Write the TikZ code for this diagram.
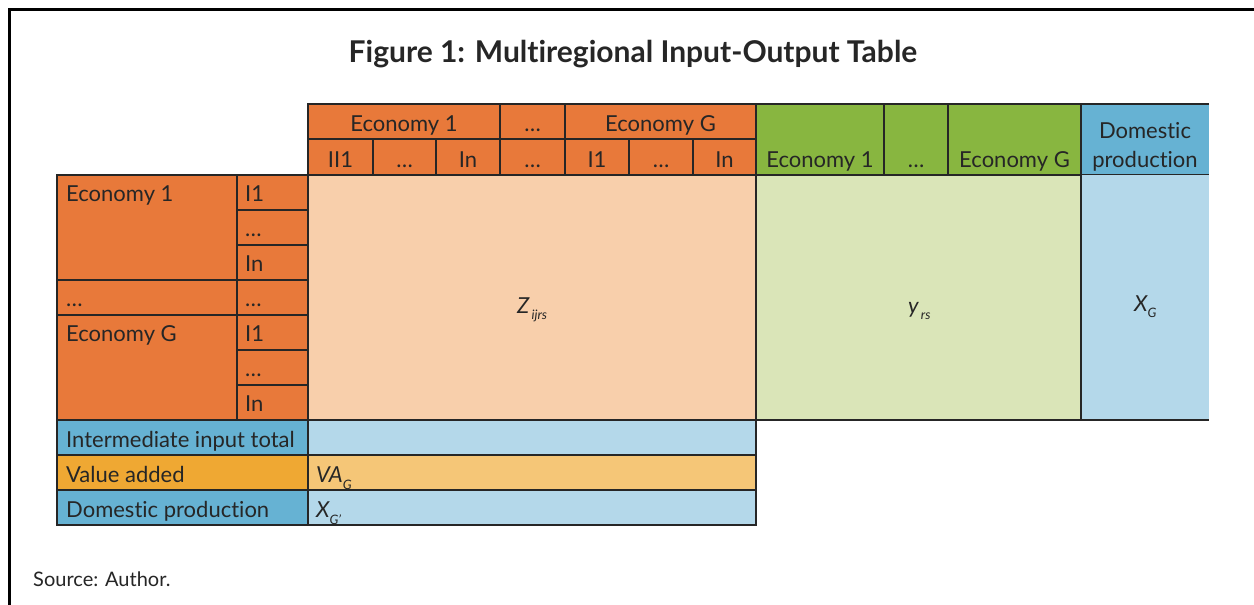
\documentclass[tikz,border=0pt]{standalone}
\usepackage{fontspec}
\setmainfont{Lato}[Ligatures=NoCommon]
\definecolor{ecoorange}{HTML}{E8793A}
\definecolor{zfill}{HTML}{F8CFAB}
\definecolor{ecogreen}{HTML}{88B640}
\definecolor{yfill}{HTML}{DAE5B8}
\definecolor{prodblue}{HTML}{66B2D3}
\definecolor{xfill}{HTML}{B4D8EA}
\definecolor{vaorange}{HTML}{EFA833}
\definecolor{vafill}{HTML}{F5C677}
\definecolor{ink}{HTML}{262626}
\tikzset{
  cell/.style={draw=ink, line width=1.5pt},
  lbl/.style={font=\fontsize{22}{25}\selectfont, text=ink, inner sep=0pt}
}
\begin{document}
\begin{tikzpicture}[x=1pt,y=-1pt]
\useasboundingbox (0,0) rectangle (1254,605);
\draw[line width=3pt, line cap=rect] (9,605) -- (9,9) -- (1254,9);

% column header
\foreach \a/\b in {308/500, 500/565, 565/756}
  \filldraw[cell, fill=ecoorange] (\a,104) rectangle (\b,139);
\foreach \a/\b in {308/373, 373/436, 436/500, 500/565, 565/629, 629/693, 693/756}
  \filldraw[cell, fill=ecoorange] (\a,139) rectangle (\b,175);
\foreach \a/\b in {756/884, 884/948, 948/1081}
  \filldraw[cell, fill=ecogreen] (\a,104) rectangle (\b,175);
\fill[prodblue] (1081,104) rectangle (1209,175);
\draw[cell] (1209,104) -- (1081,104) -- (1081,175) -- (1209,175);

% body
\filldraw[cell, fill=zfill] (308,175) rectangle (756,420);
\filldraw[cell, fill=yfill] (756,175) rectangle (1081,420);
\fill[xfill] (1081,175) rectangle (1209,420);
\draw[cell] (1081,175) -- (1081,420) -- (1209,420);

% row header
\filldraw[cell, fill=ecoorange] (57,175) rectangle (237,280);
\filldraw[cell, fill=ecoorange] (57,280) rectangle (237,315);
\filldraw[cell, fill=ecoorange] (57,315) rectangle (237,420);
\foreach \r in {175,210,...,385}
  \filldraw[cell, fill=ecoorange] (237,\r) rectangle (308,\r+35);

% totals
\filldraw[cell, fill=prodblue] (57,420) rectangle (308,455);
\filldraw[cell, fill=xfill] (308,420) rectangle (756,455);
\filldraw[cell, fill=vaorange] (57,455) rectangle (308,490);
\filldraw[cell, fill=vafill] (308,455) rectangle (756,490);
\filldraw[cell, fill=prodblue] (57,490) rectangle (308,525);
\filldraw[cell, fill=xfill] (308,490) rectangle (756,525);

\node[text=ink, inner sep=0pt, anchor=base] (title) at (633,62)
  {\fontsize{30}{33}\selectfont\bfseries Figure 1: Multiregional Input-Output Table};

\begin{scope}[every node/.style={lbl, anchor=base}]
\node (E1) at (404,131) {Economy 1};
\node (Edots) at (532.5,131) {…};
\node (EG) at (660.5,131) {Economy G};
\node (c11) at (340.5,167) {II1};
\node (c1d) at (404.5,167) {…};
\node (c1n) at (468,167) {In};
\node (cdd) at (532.5,167) {…};
\node (cG1) at (597,167) {I1};
\node (cGd) at (661,167) {…};
\node (cGn) at (724.5,167) {In};
\node (F1) at (820,167) {Economy 1};
\node (Fdots) at (916,167) {…};
\node (FG) at (1014.5,167) {Economy G};
\node (DP1) at (1145,138) {Domestic};
\node (DP2) at (1145,167) {production};
\end{scope}

\begin{scope}[every node/.style={lbl, anchor=base west}]
\node (R1) at (66,201) {Economy 1};
\node (r11) at (245,201) {I1};
\node (r1d) at (245,236) {…};
\node (r1n) at (245,271) {In};
\node (Rdots) at (66,306) {…};
\node (rdd) at (245,306) {…};
\node (RG) at (66,341) {Economy G};
\node (rG1) at (245,341) {I1};
\node (rGd) at (245,376) {…};
\node (rGn) at (245,411) {In};
\node (IIT) at (66,447) {Intermediate input total};
\node (VA) at (66,482) {Value added};
\node (DP) at (66,517) {Domestic production};
\node (VAG) at (316,482) {\itshape VA\raisebox{-7pt}{\fontsize{13}{14}\selectfont G}};
\node (XGp) at (316,517) {\itshape X\raisebox{-7pt}{\fontsize{13}{14}\selectfont G'}};
\node (Z) at (517,313) {\itshape Z\raisebox{-6pt}{\fontsize{13}{14}\selectfont\,ijrs}};
\node (y) at (908,313) {\itshape y\raisebox{-6pt}{\fontsize{13}{14}\selectfont\,rs}};
\node (X) at (1134,311) {\itshape X\raisebox{-6pt}{\fontsize{13}{14}\selectfont G}};
\node[font=\fontsize{20}{23}\selectfont] (src) at (33,586) {Source: Author.};
\end{scope}
\end{tikzpicture}
\end{document}
